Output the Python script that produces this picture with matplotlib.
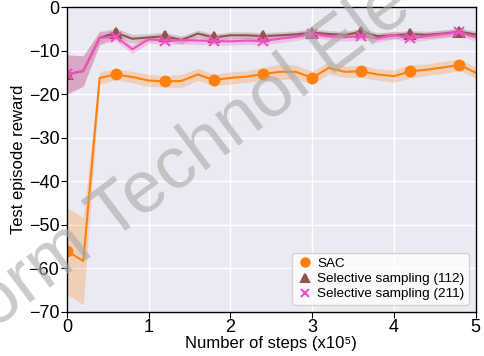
import numpy as np
import matplotlib.pyplot as plt

# steps (x10^5), one point every 0.2
steps = np.arange(0, 5.01, 0.2)

sac_mean = [-56, -58.3, -16.2, -15.4, -16, -16.8, -17, -16.9, -15.4, -16.7,
            -16.2, -15.9, -15.3, -14.8, -14.8, -16.2, -13.9, -14.8, -14.7,
            -15.4, -15.8, -14.7, -14.3, -13.8, -13.2, -15.0]
sac_std = [10, 10, 1.5, 1.2, 1.3, 1.4, 1.3, 1.5, 1.4, 1.3,
           1.4, 1.3, 1.5, 1.8, 1.6, 1.5, 1.4, 1.3, 1.4,
           1.3, 1.4, 1.5, 1.3, 1.4, 1.3, 1.3]

sel112_mean = [-15.4, -14.6, -7.0, -5.8, -7.2, -6.9, -6.6, -7.5, -6.0, -6.9,
               -6.4, -6.4, -6.6, -6.4, -6.2, -5.8, -6.1, -6.3, -5.6,
               -6.6, -6.4, -6.1, -6.3, -6.0, -5.6, -6.2]
sel112_std = [4.5, 3.5, 1.5, 1.0, 1.0, 0.9, 0.9, 0.9, 0.8, 0.8,
              0.8, 0.8, 0.8, 0.8, 0.8, 0.8, 0.8, 0.8, 0.8,
              0.8, 0.8, 0.8, 0.8, 0.8, 0.8, 0.8]

sel211_mean = [-15.4, -14.6, -7.0, -6.7, -9.6, -7.3, -7.6, -7.5, -7.6, -7.7,
               -7.8, -7.6, -7.7, -7.2, -6.7, -6.0, -6.6, -6.8, -6.6,
               -7.1, -6.3, -7.1, -6.6, -6.1, -5.7, -6.8]
sel211_std = [4.5, 3.5, 1.5, 1.0, 1.0, 0.9, 0.9, 0.9, 0.9, 0.9,
              0.9, 0.9, 0.9, 0.9, 0.9, 0.9, 0.9, 0.9, 0.9,
              0.9, 0.9, 0.9, 0.9, 0.9, 0.9, 0.9]

plt.rcParams['font.family'] = ['Liberation Sans', 'DejaVu Sans']

fig = plt.figure(figsize=(4.85, 3.56), dpi=100)
ax = fig.add_axes([0.138, 0.124, 0.843, 0.855])
ax.set_facecolor('#EAEAF2')
ax.grid(True, color='white', linewidth=1.0)
ax.set_axisbelow(True)

series = [
    ('SAC', sac_mean, sac_std, '#FF7F0E', 'o', 7),
    ('Selective sampling (112)', sel112_mean, sel112_std, '#8C564B', '^', 7),
    ('Selective sampling (211)', sel211_mean, sel211_std, '#F050C0', 'x', 7),
]
handles = []
for name, m, s, col, mk, ms in series:
    m = np.array(m)
    s = np.array(s)
    ax.fill_between(steps, m - s, m + s, color=col, alpha=0.25, linewidth=0)
    ax.plot(steps, m, color=col, linewidth=1.5, marker=mk, markersize=ms,
            markevery=3, markeredgewidth=1.5)
    handles.append(plt.Line2D([], [], color=col, marker=mk, linestyle='',
                              markersize=6, markeredgewidth=1.5, label=name))

ax.set_xlim(0, 5)
ax.set_ylim(-70, 0)
ax.set_xticks(range(0, 6))
ax.set_yticks(range(-70, 1, 10))
ax.tick_params(labelsize=13, length=4, color='black', pad=1.5)
for sp in ax.spines.values():
    sp.set_color('black')
    sp.set_linewidth(1.0)

ax.set_xlabel('Number of steps (x10\u2075)', fontsize=12, labelpad=0)
ax.set_ylabel('Test episode reward', fontsize=12, labelpad=2)
ax.legend(handles=handles, loc='lower right', fontsize=9.7, handletextpad=0.3,
          borderpad=0.35, labelspacing=0.2, handlelength=1.2, framealpha=0.8)

# journal watermark (only the part that shows in the figure)
fig.text(-0.012, 0.073, 'orm Technol Ele', fontsize=53, color='#a8a8a8',
         alpha=0.6, rotation=37, ha='left', va='baseline',
         rotation_mode='anchor')

fig.savefig('out.png', dpi=100)
